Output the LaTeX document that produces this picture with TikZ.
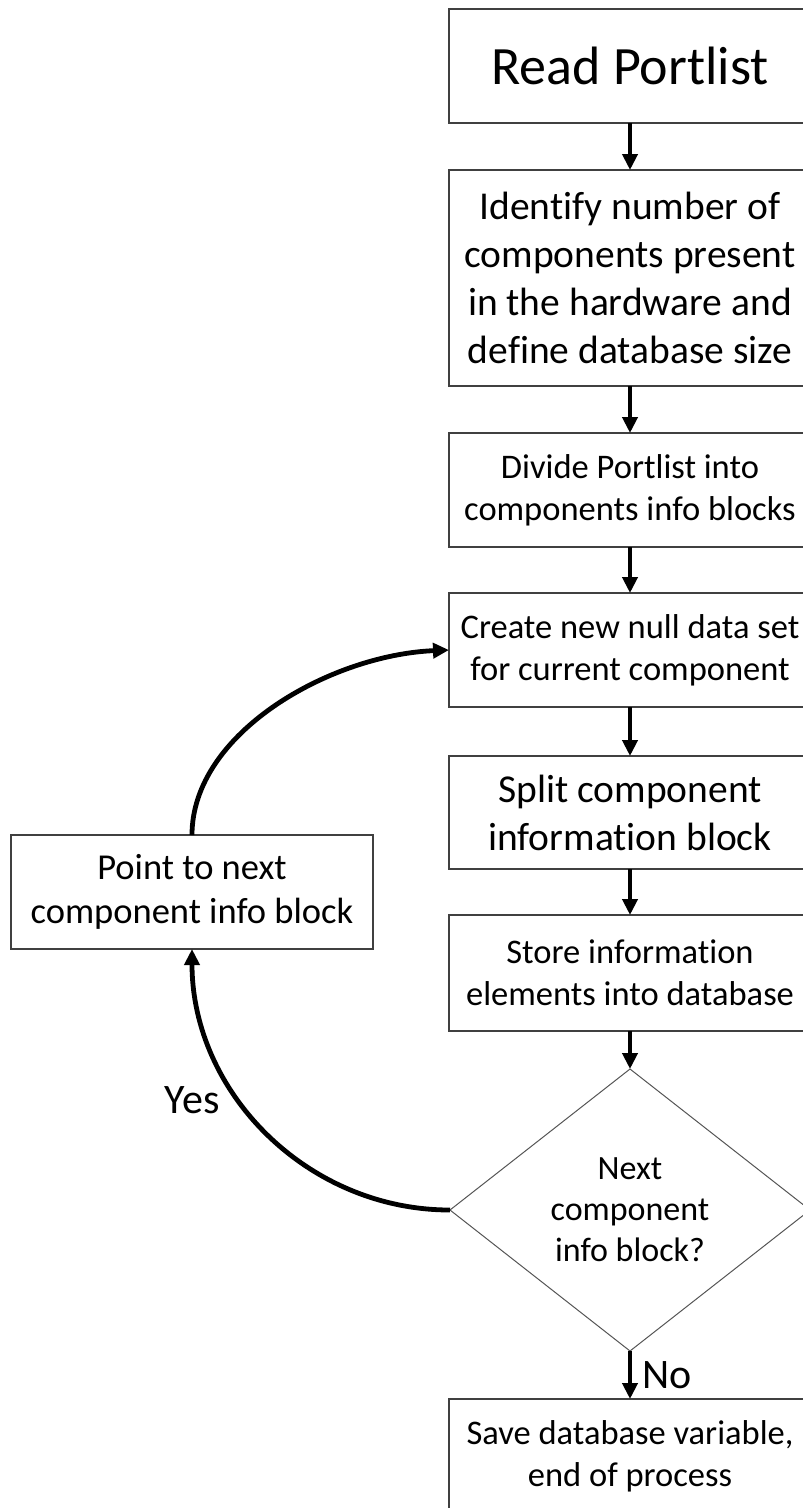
\documentclass[tikz,border=0pt]{standalone}
\usepackage{fontspec}
\setmainfont{Carlito}[Ligatures=NoCommon]
\usetikzlibrary{arrows.meta,shapes.geometric}
\definecolor{boxgray}{HTML}{404040}
\definecolor{diagray}{HTML}{555555}
\begin{document}
\begin{tikzpicture}[x=1pt,y=-1pt,
  stepbox/.style={draw=boxgray,line width=1.5pt,minimum width=362pt,
    minimum height=114pt,inner sep=0pt,outer sep=0pt,align=center,
    font=\fontsize{34.5}{42}\selectfont},
  bigtext/.style={font=\fontsize{39.5}{48}\selectfont},
  decision/.style={diamond,draw=diagray,line width=1pt,aspect=1.277,
    minimum width=360pt,minimum height=282pt,inner sep=0pt,outer sep=0pt,
    align=center,font=\fontsize{34}{41}\selectfont},
  flow/.style={line width=4pt,-{Triangle[length=16pt,width=15pt]}},
  loop/.style={flow,line width=4.8pt},
  answer/.style={font=\fontsize{42}{50}\selectfont,inner sep=0pt}]
\useasboundingbox (0,0) rectangle (803,1508);
\clip (0,0) rectangle (803,1508);

% main column of process steps
\node[stepbox,font=\fontsize{54}{66}\selectfont] (read) at (630,66) {Read Portlist};
\node[stepbox,bigtext,minimum height=216pt] (ident) at (630,278)
  {Identify number of\\components present\\in the hardware and\\define database size};
\node[stepbox] (divide) at (630,490) {Divide Portlist into\\components info blocks};
\node[stepbox] (create) at (630,650) {Create new null data set\\for current component};
\node[stepbox,bigtext,minimum height=113pt] (split) at (630,812.5) {Split component\\information block};
\node[stepbox,minimum height=116pt] (store) at (630,973) {Store information\\elements into database};
\node[decision] (next) at (630,1210) {Next\\component\\info block?};
\node[stepbox] (save) at (630,1456) {Save database variable,\\end of process};

% loop-back step
\node[stepbox,font=\fontsize{36.5}{44.5}\selectfont] (point) at (192,892)
  {Point to next\\component info block};

% straight connectors
\draw[flow] (read.south) -- (ident.north);
\draw[flow] (ident.south) -- (divide.north);
\draw[flow] (divide.south) -- (create.north);
\draw[flow] (create.south) -- (split.north);
\draw[flow] (split.south) -- (store.north);
\draw[flow] (store.south) -- (next.north);
\draw[flow] (next.south) -- node[answer,anchor=west,xshift=10pt] (no) {No} (save.north);

% loop connectors
\draw[loop] (next.west) .. controls +(-142,0) and +(0,144) .. (point.south);
\draw[loop] (point.north) .. controls +(0,-102) and +(-119,5) .. (create.west);
\node[answer,anchor=base] (yes) at (192,1113) {Yes};
\end{tikzpicture}
\end{document}
